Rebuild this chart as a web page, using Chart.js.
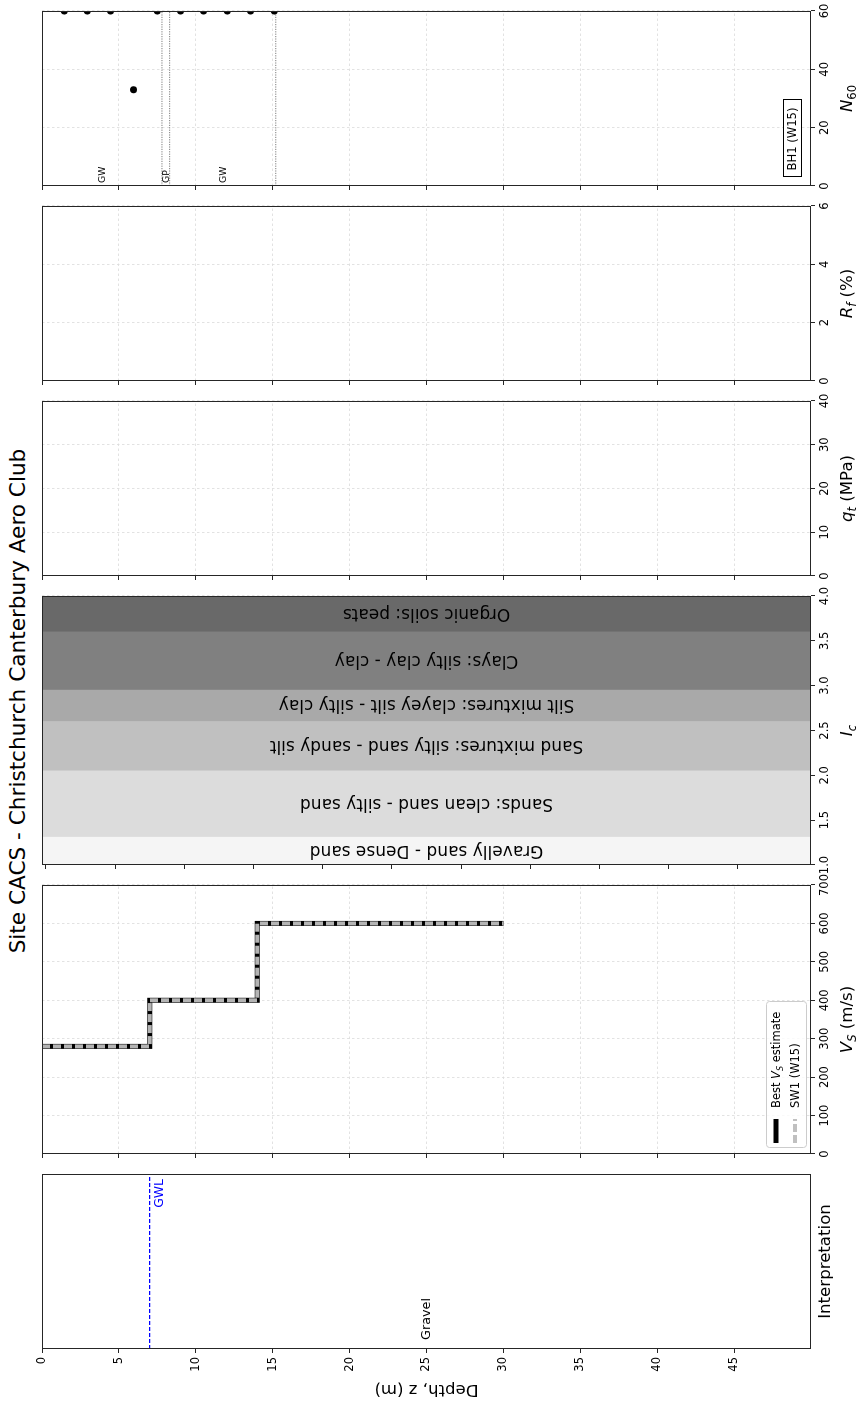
<!DOCTYPE html>
<html>
<head>
<meta charset="utf-8">
<script src="https://cdn.jsdelivr.net/npm/chart.js@4/dist/chart.umd.min.js"></script>
<style>
  body { margin: 0; width: 860px; height: 1402px; overflow: hidden; background: #fff; }
  #fig {
    position: absolute; left: 0; top: 0; width: 1402px; height: 860px;
    transform-origin: 0 0; transform: translate(0px, 1402px) rotate(-90deg);
    background: #fff;
  }
  #title {
    position: absolute; left: 0; top: 7px; width: 1402px; text-align: center;
    font: 21.6px "DejaVu Sans"; line-height: 1; color: #000;
  }
</style>
</head>
<body>
<div id="fig">
  <div id="title">Site CACS - Christchurch Canterbury Aero Club</div>
</div>
<script>
// depth axis
const depthMax = 50;
const depthTicks = [0, 5, 10, 15, 20, 25, 30, 35, 40, 45];

// interpretation
const gwlDepth = 7.0;
const interpTops = [0];
const interpBottoms = [50];
const interpNames = ['Gravel'];

// shear wave velocity profile
const vsTops = [0, 7, 14];
const vsBottoms = [7, 14, 30];
const vsBest = [280, 400, 600];
const vsSW1 = [280, 400, 600];
const vsTicks = [0, 100, 200, 300, 400, 500, 600, 700];

// soil behaviour type zones
const icBounds = [1.0, 1.31, 2.05, 2.6, 2.95, 3.6, 4.0];
const icZoneNames = [
  'Gravelly sand - Dense sand',
  'Sands: clean sand - silty sand',
  'Sand mixtures: silty sand - sandy silt',
  'Silt mixtures: clayey silt - silty clay',
  'Clays: silty clay - clay',
  'Organic soils: peats'
];
const icZoneColors = ['#f5f5f5', '#dcdcdc', '#c0c0c0', '#a9a9a9', '#808080', '#696969'];
const icTicks = [1.0, 1.5, 2.0, 2.5, 3.0, 3.5, 4.0];

const qtTicks = [0, 10, 20, 30, 40];
const rfTicks = [0, 2, 4, 6];

// SPT borehole
const sptDepths = [1.45, 2.95, 4.45, 5.95, 7.5, 9.0, 10.5, 12.05, 13.55, 15.1];
const sptN60 = [60, 60, 60, 33, 60, 60, 60, 60, 60, 60];
const n60Ticks = [0, 20, 40, 60];
const bhLayerTops = [0, 7.8, 8.3];
const bhLayerBottoms = [7.8, 8.3, 15.2];
const bhLayerNames = ['GW', 'GP', 'GW'];

const FONT = 'DejaVu Sans';
const FIG_H = 860;
const PLOT_TOP = 42;
const PLOT_BOTTOM = 811;
const LABEL_BASE = 852;
const fig = document.getElementById('fig');

function gridOpts(onArea) {
  return {
    drawOnChartArea: onArea, color: '#dadada', lineWidth: 0.8,
    tickLength: 4, tickColor: '#262626', tickWidth: 1, tickBorderDash: []
  };
}

function depthScale(yw, showLabels, gridOn, title) {
  return {
    type: 'linear', position: 'left', reverse: true, min: 0, max: depthMax,
    afterBuildTicks: s => { s.ticks = depthTicks.map(v => ({ value: v })); },
    afterFit: s => { s.width = yw; s.paddingTop = 0; s.paddingBottom = 0; },
    grid: gridOpts(gridOn),
    border: { display: false, dash: [2.5, 2.5] },
    ticks: { display: showLabels, padding: 4, color: '#000', autoSkip: false, font: { family: FONT, size: 11.5 } },
    title: title
      ? { display: true, text: title, color: '#000', font: { family: FONT, size: 16.6 }, padding: { top: 3 } }
      : { display: false }
  };
}

function valueScale(min, max, ticks, fmt) {
  const show = !!ticks;
  return {
    type: 'linear', position: 'bottom', min: min, max: max,
    afterBuildTicks: s => { if (ticks) s.ticks = ticks.map(v => ({ value: v })); },
    afterFit: s => { s.height = FIG_H - PLOT_BOTTOM; s.paddingLeft = 0; s.paddingRight = 0; },
    grid: show ? gridOpts(true) : { display: false },
    border: { display: false, dash: [2.5, 2.5] },
    ticks: {
      display: show, padding: 3, color: '#000', autoSkip: false, maxRotation: 0, minRotation: 0,
      font: { family: FONT, size: 11.5 },
      callback: fmt || (v => v)
    }
  };
}

// text made of normal / italic / subscript pieces
function richText(ctx, parts, x, baseY, size, align) {
  const spans = parts.map(p => {
    const fs = p.sub ? size * 0.7 : size;
    const font = (p.it ? 'italic ' : '') + fs + 'px "' + FONT + '"';
    ctx.font = font;
    return { t: p.t, font: font, w: ctx.measureText(p.t).width, dy: p.sub ? size * 0.22 : 0 };
  });
  const total = spans.reduce((s, p) => s + p.w, 0);
  let cx = align === 'left' ? x : x - total / 2;
  ctx.textAlign = 'left';
  ctx.textBaseline = 'alphabetic';
  spans.forEach(p => { ctx.font = p.font; ctx.fillText(p.t, cx, baseY + p.dy); cx += p.w; });
}

function drawFrame(ctx, a) {
  ctx.save();
  ctx.strokeStyle = '#262626';
  ctx.lineWidth = 1;
  ctx.strokeRect(Math.round(a.left) + 0.5, Math.round(a.top) + 0.5,
    Math.round(a.right - a.left) - 1, Math.round(a.bottom - a.top) - 1);
  ctx.restore();
}

function makePanel(left, width, canvasLeft, xLabel, config, extra) {
  const cv = document.createElement('canvas');
  const w = left - canvasLeft + width + 20;
  cv.width = w;
  cv.height = FIG_H;
  cv.style.cssText = 'position:absolute;top:0;left:' + canvasLeft + 'px;width:' + w + 'px;height:' + FIG_H + 'px';
  fig.appendChild(cv);

  config.options = Object.assign({
    responsive: false, animation: false, devicePixelRatio: 1, events: [],
    layout: { padding: { left: 0, top: PLOT_TOP, right: 20, bottom: 0 } },
    plugins: { legend: { display: false }, tooltip: { enabled: false } }
  }, config.options);

  config.plugins = [{
    id: 'decor',
    afterDraw(chart) {
      const ctx = chart.ctx, a = chart.chartArea;
      ctx.save();
      if (extra) extra(chart, ctx, a);
      drawFrame(ctx, a);
      ctx.fillStyle = '#000';
      richText(ctx, xLabel.parts, (a.left + a.right) / 2, xLabel.base, 16.6);
      ctx.restore();
    }
  }];
  return new Chart(cv, config);
}

const lineData = (x0, x1, d) => [{ x: x0, y: d }, { x: x1, y: d }];

// Interpretation
makePanel(53, 175, 0, { parts: [{ t: 'Interpretation' }], base: 830 }, {
  type: 'scatter',
  data: {
    datasets: [{
      data: lineData(0, 1, gwlDepth), showLine: true, borderColor: '#0000ff',
      borderWidth: 1.2, borderDash: [4, 2], pointRadius: 0, clip: 0
    }]
  },
  options: {
    scales: {
      x: valueScale(0, 1, null),
      y: depthScale(53, true, false, 'Depth, z (m)')
    }
  }
}, (chart, ctx, a) => {
  const ys = chart.scales.y;
  ctx.fillStyle = '#0000ff';
  ctx.font = '12.4px "' + FONT + '"';
  ctx.textAlign = 'right';
  ctx.textBaseline = 'top';
  ctx.fillText('GWL', a.right - 5, ys.getPixelForValue(gwlDepth) + 4);
  ctx.fillStyle = '#000';
  ctx.font = '12.8px "' + FONT + '"';
  ctx.textAlign = 'left';
  ctx.textBaseline = 'middle';
  interpNames.forEach((n, i) => {
    ctx.fillText(n, a.left + 9, ys.getPixelForValue((interpTops[i] + interpBottoms[i]) / 2));
  });
});

// Vs
function stepPoints(tops, bottoms, vals) {
  const pts = [];
  tops.forEach((t, i) => { pts.push({ x: vals[i], y: t }, { x: vals[i], y: bottoms[i] }); });
  return pts;
}

makePanel(248, 269, 228, { parts: [{ t: 'V', it: 1 }, { t: 'S', it: 1, sub: 1 }, { t: ' (m/s)' }], base: LABEL_BASE }, {
  type: 'scatter',
  data: {
    datasets: [
      {
        label: 'SW1 (W15)', data: stepPoints(vsTops, vsBottoms, vsSW1), showLine: true,
        borderColor: '#b4b4b4', borderWidth: 4, borderDash: [8, 3], pointRadius: 0
      },
      {
        label: 'Best Vs estimate', data: stepPoints(vsTops, vsBottoms, vsBest), showLine: true,
        borderColor: '#000', borderWidth: 5, pointRadius: 0
      }
    ]
  },
  options: {
    scales: {
      x: valueScale(0, 700, vsTicks),
      y: depthScale(20, false, true)
    }
  }
}, (chart, ctx, a) => {
  const bx = a.left + 6, by = a.bottom - 45, bw = 146, bh = 40;
  ctx.fillStyle = 'rgba(255,255,255,0.8)';
  ctx.strokeStyle = '#cccccc';
  ctx.lineWidth = 1;
  ctx.beginPath();
  ctx.roundRect(bx + 0.5, by + 0.5, bw, bh, 3);
  ctx.fill();
  ctx.stroke();
  const rows = [a.bottom - 35, a.bottom - 16];
  ctx.lineWidth = 5;
  ctx.strokeStyle = '#000';
  ctx.beginPath();
  ctx.moveTo(a.left + 11, rows[0]);
  ctx.lineTo(a.left + 35, rows[0]);
  ctx.stroke();
  ctx.lineWidth = 4;
  ctx.strokeStyle = '#c0c0c0';
  ctx.setLineDash([8, 3]);
  ctx.beginPath();
  ctx.moveTo(a.left + 11, rows[1]);
  ctx.lineTo(a.left + 35, rows[1]);
  ctx.stroke();
  ctx.setLineDash([]);
  ctx.fillStyle = '#000';
  richText(ctx, [{ t: 'Best ' }, { t: 'V', it: 1 }, { t: 'S', it: 1, sub: 1 }, { t: ' estimate' }], a.left + 46, rows[0] + 4, 11.5, 'left');
  richText(ctx, [{ t: 'SW1 (W15)' }], a.left + 46, rows[1] + 4, 11.5, 'left');
});

// Ic zones
makePanel(537, 269, 517, { parts: [{ t: 'I', it: 1 }, { t: 'c', it: 1, sub: 1 }], base: LABEL_BASE }, {
  type: 'bar',
  data: {
    labels: [''],
    datasets: icZoneNames.map((name, i) => ({
      label: name,
      data: [[icBounds[i], icBounds[i + 1]]],
      backgroundColor: icZoneColors[i],
      borderWidth: 0,
      yAxisID: 'zone',
      categoryPercentage: 1,
      barPercentage: 1,
      grouped: false
    }))
  },
  options: {
    indexAxis: 'y',
    scales: {
      x: valueScale(1.0, 4.0, icTicks, v => v.toFixed(1)),
      zone: { type: 'category', axis: 'y', position: 'left', display: false, offset: true },
      y: depthScale(20, false, true)
    }
  }
}, (chart, ctx, a) => {
  const xs = chart.scales.x, ys = chart.scales.y;
  ctx.fillStyle = '#000';
  ctx.font = '17px "' + FONT + '"';
  ctx.textAlign = 'center';
  ctx.textBaseline = 'middle';
  icZoneNames.forEach((n, i) => {
    ctx.save();
    ctx.translate(xs.getPixelForValue((icBounds[i] + icBounds[i + 1]) / 2), ys.getPixelForValue(depthMax / 2));
    ctx.rotate(-Math.PI / 2);
    ctx.fillText(n, 0, 1);
    ctx.restore();
  });
});

// qt
makePanel(826, 175, 806, { parts: [{ t: 'q', it: 1 }, { t: 't', it: 1, sub: 1 }, { t: ' (MPa)' }], base: LABEL_BASE }, {
  type: 'scatter',
  data: { datasets: [] },
  options: { scales: { x: valueScale(0, 40, qtTicks), y: depthScale(20, false, true) } }
});

// Rf
makePanel(1021, 175, 1001, { parts: [{ t: 'R', it: 1 }, { t: 'f', it: 1, sub: 1 }, { t: ' (%)' }], base: LABEL_BASE }, {
  type: 'scatter',
  data: { datasets: [] },
  options: { scales: { x: valueScale(0, 6, rfTicks), y: depthScale(20, false, true) } }
});

// N60
makePanel(1216, 175, 1196, { parts: [{ t: 'N', it: 1 }, { t: '60', sub: 1 }], base: LABEL_BASE }, {
  type: 'scatter',
  data: {
    datasets: [{
      data: sptDepths.map((d, i) => ({ x: sptN60[i], y: d })),
      pointRadius: 3.5, pointBackgroundColor: '#000', pointBorderWidth: 0, clip: 0
    }].concat(bhLayerBottoms.map(d => ({
      data: lineData(0, 60, d), showLine: true, borderColor: '#6e6e6e',
      borderWidth: 0.9, borderDash: [1.2, 1.2], pointRadius: 0, clip: 0
    })))
  },
  options: { scales: { x: valueScale(0, 60, n60Ticks), y: depthScale(20, false, true) } }
}, (chart, ctx, a) => {
  const ys = chart.scales.y;
  ctx.fillStyle = '#000';
  ctx.font = '9.3px "' + FONT + '"';
  ctx.textAlign = 'left';
  ctx.textBaseline = 'middle';
  bhLayerNames.forEach((n, i) => {
    ctx.fillText(n, a.left + 3, ys.getPixelForValue((bhLayerTops[i] + bhLayerBottoms[i]) / 2) + 1);
  });
  const cx = a.left + 47, cy = a.bottom - 19;
  ctx.fillStyle = '#fff';
  ctx.fillRect(cx - 38.5, cy - 9, 77, 18);
  ctx.strokeStyle = '#000';
  ctx.lineWidth = 1;
  ctx.strokeRect(Math.round(cx - 38.5) + 0.5, Math.round(cy - 9) + 0.5, 77, 18);
  ctx.fillStyle = '#000';
  ctx.font = '11.6px "' + FONT + '"';
  ctx.textAlign = 'center';
  ctx.fillText('BH1 (W15)', cx, cy + 1);
});
</script>
</body>
</html>
